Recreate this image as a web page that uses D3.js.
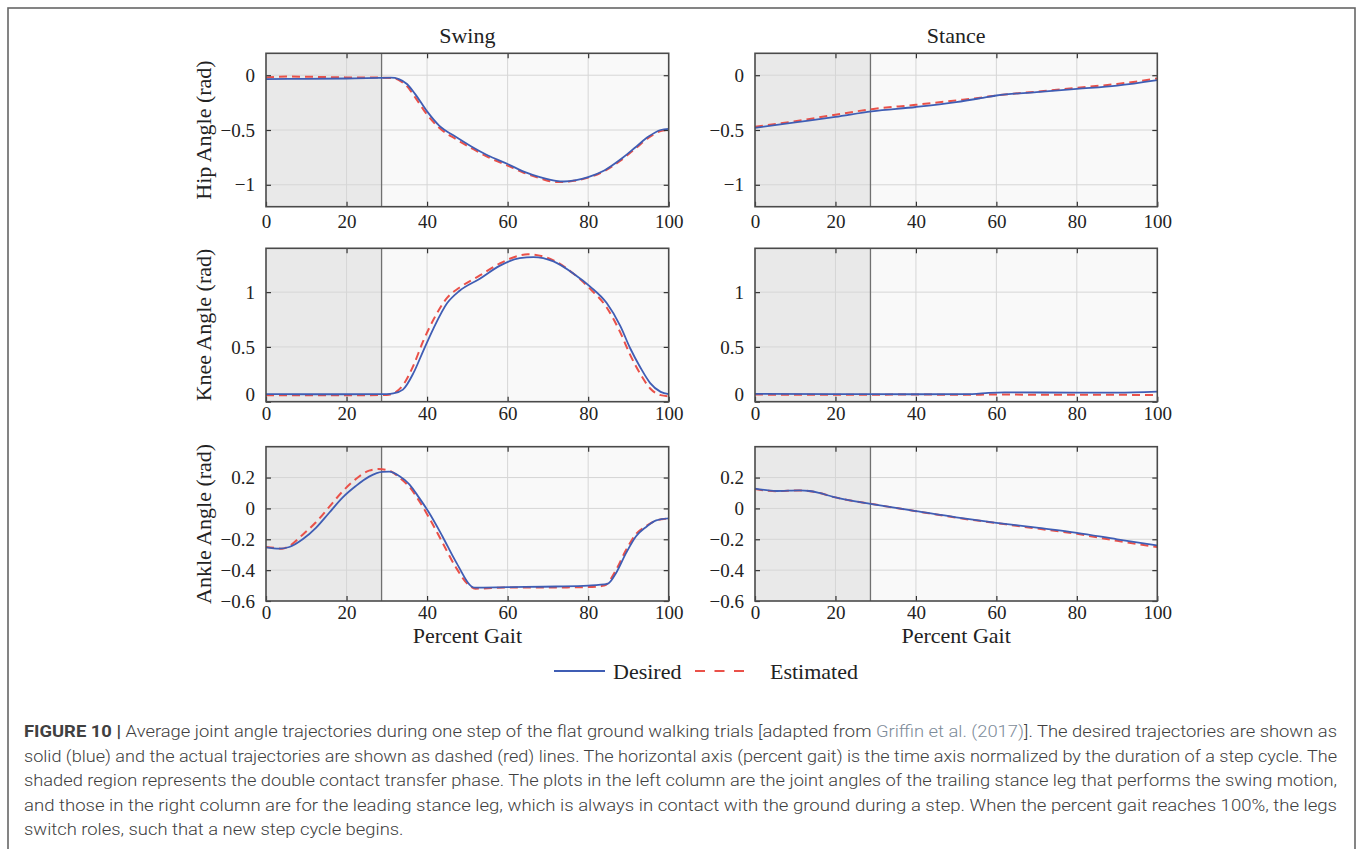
<!DOCTYPE html>
<html>
<head>
<meta charset="utf-8">
<script src="https://cdn.jsdelivr.net/npm/d3@7"></script>
<style>
  html, body { margin: 0; padding: 0; background: #fff; }
  svg { display: block; }
</style>
</head>
<body>
<svg id="chart" width="1362" height="849"></svg>
<script>
(function () {
  // Shared percent-gait axis and the end of the double contact (shaded) phase.
  var gaitTicks = [0, 20, 40, 60, 80, 100];
  var transferEnd = 28.7;

  var columnTitles = ["Swing", "Stance"];
  var rowLabels = ["Hip Angle (rad)", "Knee Angle (rad)", "Ankle Angle (rad)"];
  var rowDomains = [[-1.2, 0.2], [0, 1.4], [-0.6, 0.4]];
  var rowTicks = [[-1, -0.5, 0], [0, 0.5, 1], [-0.6, -0.4, -0.2, 0, 0.2]];
  var legendLabels = ["Desired", "Estimated"];

  // [percent gait, angle in rad].
  var hipSwingDesired = [[0,-0.035],[10,-0.033],[20,-0.03],[28,-0.025],[31,-0.022],[33,-0.035],[35,-0.08],[37,-0.17],[40,-0.33],[43,-0.46],[47,-0.56],[51,-0.65],[55,-0.73],[60,-0.81],[64,-0.88],[68,-0.93],[72,-0.965],[74,-0.97],[77,-0.958],[80,-0.93],[84,-0.87],[88,-0.77],[92,-0.65],[95,-0.56],[98,-0.5],[100,-0.49]];
  var hipSwingEstimated = [[0,-0.02],[5,-0.012],[12,-0.015],[20,-0.02],[28,-0.022],[31,-0.025],[33,-0.045],[35,-0.1],[37,-0.2],[40,-0.36],[43,-0.48],[47,-0.58],[51,-0.665],[55,-0.745],[60,-0.825],[64,-0.89],[68,-0.94],[72,-0.975],[74,-0.975],[77,-0.96],[80,-0.935],[84,-0.875],[88,-0.78],[92,-0.66],[95,-0.57],[98,-0.51],[100,-0.5]];
  var hipStanceDesired = [[0,-0.48],[10,-0.43],[20,-0.38],[29,-0.33],[40,-0.29],[50,-0.245],[56,-0.21],[60,-0.185],[70,-0.155],[80,-0.125],[90,-0.095],[100,-0.045]];
  var hipStanceEstimated = [[0,-0.47],[10,-0.42],[20,-0.36],[29,-0.31],[40,-0.27],[50,-0.23],[56,-0.205],[60,-0.185],[70,-0.15],[80,-0.115],[90,-0.08],[100,-0.03]];

  var kneeSwingDesired = [[0,0.07],[10,0.068],[20,0.068],[30,0.07],[31.6,0.075],[34,0.11],[36.6,0.26],[39,0.46],[41.6,0.67],[45,0.9],[48,1.01],[53,1.12],[58,1.24],[63,1.31],[66.4,1.32],[71.4,1.28],[76.3,1.17],[80.5,1.05],[84.6,0.9],[88,0.69],[90.4,0.49],[93,0.31],[95.4,0.17],[98,0.09],[100,0.07]];
  var kneeSwingEstimated = [[0,0.06],[10,0.058],[20,0.058],[30,0.062],[31.6,0.075],[34,0.15],[36.6,0.33],[39,0.55],[41.6,0.75],[45,0.95],[48,1.04],[53,1.15],[58,1.26],[63,1.335],[65,1.345],[71.4,1.29],[76.3,1.17],[80.5,1.03],[84.6,0.86],[88,0.63],[90.4,0.43],[93,0.25],[95.4,0.12],[98,0.06],[100,0.05]];
  var kneeStanceDesired = [[0,0.072],[20,0.07],[40,0.068],[54,0.07],[58,0.08],[62,0.085],[80,0.083],[90,0.083],[100,0.092]];
  var kneeStanceEstimated = [[0,0.065],[20,0.063],[40,0.065],[54,0.063],[58,0.065],[80,0.063],[100,0.062]];

  var ankleSwingDesired = [[0,-0.252],[3.3,-0.26],[5.8,-0.25],[9.1,-0.2],[12.4,-0.126],[15.7,-0.028],[19,0.07],[22.3,0.145],[25.6,0.206],[28.9,0.237],[30.6,0.238],[33.1,0.21],[35.6,0.156],[38,0.07],[40.5,-0.028],[43.8,-0.18],[47.1,-0.343],[51.8,-0.513],[60,-0.51],[72,-0.506],[80,-0.5],[84.8,-0.489],[86.9,-0.42],[89.4,-0.29],[91.9,-0.18],[94.4,-0.12],[96.9,-0.078],[100,-0.065]];
  var ankleSwingEstimated = [[0,-0.25],[2,-0.255],[4,-0.262],[6,-0.24],[9.1,-0.17],[12.4,-0.09],[15.7,0.01],[19,0.11],[22.3,0.19],[25.6,0.245],[28,0.255],[30.6,0.245],[33.1,0.2],[35.6,0.14],[38,0.05],[40.5,-0.06],[43.8,-0.22],[47.1,-0.38],[50.5,-0.5],[52,-0.52],[60,-0.512],[72,-0.512],[80,-0.51],[84,-0.5],[86.9,-0.4],[89.4,-0.27],[91.9,-0.165],[94.4,-0.115],[96.9,-0.078],[100,-0.065]];
  var ankleStanceDesired = [[0,0.128],[5.4,0.113],[11,0.117],[13.6,0.113],[16,0.1],[19.4,0.075],[24,0.05],[28.7,0.03],[40,-0.017],[50,-0.058],[60,-0.093],[70,-0.125],[80,-0.158],[90,-0.2],[100,-0.24]];
  var ankleStanceEstimated = [[0,0.125],[5.4,0.112],[11,0.116],[13.6,0.112],[16,0.1],[19.4,0.075],[24,0.05],[28.7,0.03],[40,-0.018],[50,-0.06],[60,-0.095],[70,-0.13],[80,-0.165],[90,-0.21],[100,-0.25]];

  var panels = [
    [[hipSwingDesired, hipSwingEstimated], [hipStanceDesired, hipStanceEstimated]],
    [[kneeSwingDesired, kneeSwingEstimated], [kneeStanceDesired, kneeStanceEstimated]],
    [[ankleSwingDesired, ankleSwingEstimated], [ankleStanceDesired, ankleStanceEstimated]]
  ];

  var captionLines = [
    [["FIGURE 10 | ", "bold"], ["Average joint angle trajectories during one step of the flat ground walking trials [adapted from ", ""], ["Griffin et al. (2017)", "link"], ["]. The desired trajectories are shown as", ""]],
    [["solid (blue) and the actual trajectories are shown as dashed (red) lines. The horizontal axis (percent gait) is the time axis normalized by the duration of a step cycle. The", ""]],
    [["shaded region represents the double contact transfer phase. The plots in the left column are the joint angles of the trailing stance leg that performs the swing motion,", ""]],
    [["and those in the right column are for the leading stance leg, which is always in contact with the ground during a step. When the percent gait reaches 100%, the legs", ""]],
    [["switch roles, such that a new step cycle begins.", ""]]
  ];

  // layout
  var serif = "'Liberation Serif', 'Times New Roman', serif";
  var cols = [[266, 668.7], [755, 1157.3]];
  var rows = [[53.3, 206.7], [248.3, 401.7], [446.7, 601]];
  var xLabelPad = [7.5, 4.5, 4.5];
  var blue = "#3f5db4";
  var red = "#ea5149";

  var svg = d3.select("#chart");

  // figure frame
  svg.append("rect")
    .attr("x", 8).attr("y", 8).attr("width", 1347).attr("height", 860)
    .attr("fill", "none").attr("stroke", "#666").attr("stroke-width", 1.6);

  var line = d3.line().curve(d3.curveMonotoneX);

  panels.forEach(function (rowPanels, r) {
    rowPanels.forEach(function (series, c) {
      var x = d3.scaleLinear().domain([0, 100]).range(cols[c]);
      var y = d3.scaleLinear().domain(rowDomains[r]).range([rows[r][1], rows[r][0]]);
      var g = svg.append("g");
      var dom = rowDomains[r];

      g.append("rect")
        .attr("x", x(0)).attr("y", y(dom[1]))
        .attr("width", x(100) - x(0)).attr("height", y(dom[0]) - y(dom[1]))
        .attr("fill", "#f9f9f9");
      g.append("rect")
        .attr("x", x(0)).attr("y", y(dom[1]))
        .attr("width", x(transferEnd) - x(0)).attr("height", y(dom[0]) - y(dom[1]))
        .attr("fill", "#e9e9e9");

      // grid
      g.selectAll("line.vgrid")
        .data(gaitTicks.filter(function (t) { return t > 0 && t < 100; }))
        .join("line")
        .attr("x1", function (d) { return x(d); }).attr("x2", function (d) { return x(d); })
        .attr("y1", y(dom[1])).attr("y2", y(dom[0]))
        .attr("stroke", "#d6d6d6").attr("stroke-width", 1);
      g.selectAll("line.hgrid")
        .data(rowTicks[r].filter(function (t) { return t > dom[0] && t < dom[1]; }))
        .join("line")
        .attr("y1", function (d) { return y(d); }).attr("y2", function (d) { return y(d); })
        .attr("x1", x(0)).attr("x2", x(100))
        .attr("stroke", "#d6d6d6").attr("stroke-width", 1);

      g.append("line")
        .attr("x1", x(transferEnd)).attr("x2", x(transferEnd))
        .attr("y1", y(dom[1])).attr("y2", y(dom[0]))
        .attr("stroke", "#707070").attr("stroke-width", 1.3);

      line.x(function (d) { return x(d[0]); }).y(function (d) { return y(d[1]); });
      g.append("path").attr("d", line(series[1]))
        .attr("fill", "none").attr("stroke", red).attr("stroke-width", 2)
        .attr("stroke-dasharray", "8,5");
      g.append("path").attr("d", line(series[0]))
        .attr("fill", "none").attr("stroke", blue).attr("stroke-width", 1.8);

      // axes: inward ticks on all four sides, labels on bottom and left
      var bottom = g.append("g").attr("transform", "translate(0," + y(dom[0]) + ")")
        .call(d3.axisBottom(x).tickValues(gaitTicks).tickSizeInner(-5).tickSizeOuter(0).tickPadding(xLabelPad[r]));
      var top = g.append("g").attr("transform", "translate(0," + y(dom[1]) + ")")
        .call(d3.axisTop(x).tickValues(gaitTicks.slice(1, -1)).tickSizeInner(-5).tickSizeOuter(0).tickFormat(""));
      var left = g.append("g").attr("transform", "translate(" + x(0) + ",0)")
        .call(d3.axisLeft(y).tickValues(rowTicks[r]).tickSizeInner(-5).tickSizeOuter(0).tickPadding(11).tickFormat(d3.format("")));
      var right = g.append("g").attr("transform", "translate(" + x(100) + ",0)")
        .call(d3.axisRight(y).tickValues(rowTicks[r]).tickSizeInner(-5).tickSizeOuter(0).tickFormat(""));

      [bottom, top, left, right].forEach(function (a) {
        a.select(".domain").remove();
        a.selectAll(".tick line").attr("stroke", "#333").attr("stroke-width", 1.2);
        a.selectAll("text").attr("font-family", serif).attr("font-size", 19).attr("fill", "#222");
      });
      // the knee "0" label sits a little above its tick in the original
      if (r === 1) {
        left.selectAll(".tick").filter(function (d) { return d === 0; })
          .select("text").attr("dy", "-0.08em");
      }

      g.append("rect")
        .attr("x", x(0)).attr("y", y(dom[1]))
        .attr("width", x(100) - x(0)).attr("height", y(dom[0]) - y(dom[1]))
        .attr("fill", "none").attr("stroke", "#4a4a4a").attr("stroke-width", 1.6);

      if (r === 0) {
        svg.append("text")
          .attr("x", (cols[c][0] + cols[c][1]) / 2).attr("y", 43)
          .attr("text-anchor", "middle")
          .attr("font-family", serif).attr("font-size", 22).attr("fill", "#222")
          .text(columnTitles[c]);
      }
      if (r === 2) {
        svg.append("text")
          .attr("x", (cols[c][0] + cols[c][1]) / 2).attr("y", 643)
          .attr("text-anchor", "middle")
          .attr("font-family", serif).attr("font-size", 22).attr("fill", "#222")
          .text("Percent Gait");
      }
    });

    svg.append("text")
      .attr("transform", "translate(211," + (rows[r][0] + rows[r][1]) / 2 + ") rotate(-90)")
      .attr("text-anchor", "middle")
      .attr("font-family", serif).attr("font-size", 22).attr("fill", "#222")
      .text(rowLabels[r]);
  });

  // legend
  var legend = svg.append("g").attr("transform", "translate(0,671)");
  legend.append("line").attr("x1", 554).attr("x2", 605)
    .attr("stroke", blue).attr("stroke-width", 1.8);
  legend.append("text").attr("x", 613).attr("y", 7.5)
    .attr("font-family", serif).attr("font-size", 22).attr("fill", "#222").text(legendLabels[0]);
  legend.append("line").attr("x1", 695).attr("x2", 748)
    .attr("stroke", red).attr("stroke-width", 2).attr("stroke-dasharray", "10,9.5");
  legend.append("text").attr("x", 770).attr("y", 7.5)
    .attr("font-family", serif).attr("font-size", 22).attr("fill", "#222").text(legendLabels[1]);

  // caption: justified lines, last line ragged
  var caption = svg.append("g")
    .attr("font-family", "Roboto, 'Liberation Sans', sans-serif")
    .attr("font-size", 17).attr("fill", "#404040");
  var captionLeft = 24, captionRight = 1337, captionTop = 737, lineGap = 24.6;
  var squeeze = 1;
  captionLines.forEach(function (parts, i) {
    var t = caption.append("text")
      .attr("x", captionLeft).attr("y", captionTop + i * lineGap);
    parts.forEach(function (p) {
      t.append("tspan")
        .attr("font-weight", p[1] === "bold" ? 700 : 300)
        .attr("fill", p[1] === "link" ? "#7d8b99" : null)
        .text(p[0]);
    });
    var natural = t.node().getComputedTextLength();
    if (i === 0) squeeze = (captionRight - captionLeft) / natural;
    var target = i < captionLines.length - 1 ? captionRight - captionLeft : natural * squeeze;
    t.attr("textLength", target).attr("lengthAdjust", "spacingAndGlyphs");
  });
})();
</script>
</body>
</html>
